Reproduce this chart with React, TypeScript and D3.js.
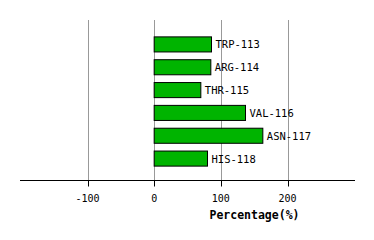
import React from "react";
import * as d3 from "d3";

const categories = ["TRP-113", "ARG-114", "THR-115", "VAL-116", "ASN-117", "HIS-118"];
const values = [86, 85, 70, 137, 163, 80];
const tickValues = [-100, 0, 100, 200];
const axisTitle = "Percentage(%)";

export default function App() {
  const W = 374, H = 240;
  const x = d3.scaleLinear().domain([-100, 200]).range([87.5, 287.5]);
  const y = d3.scaleBand<string>().domain(categories).range([33, 170]).paddingInner(0.34).paddingOuter(0.17);
  const axisY = 180.5;
  const font = "'DejaVu Sans Mono', monospace";
  return (
    <svg width={W} height={H} style={{ position: "absolute", left: 0, top: 0 }}>
      <rect width={W} height={H} fill="#fff" />
      {tickValues.map((t) => (
        <line key={"g" + t} x1={Math.round(x(t)) + 0.5} x2={Math.round(x(t)) + 0.5} y1={20} y2={axisY} stroke="#999" strokeWidth={1} />
      ))}
      {categories.map((c, i) => {
        const x0 = x(0), x1 = x(values[i]);
        const yy = y(c)!;
        return (
          <g key={c}>
            <rect x={Math.min(x0, x1)} y={yy} width={Math.abs(x1 - x0)} height={y.bandwidth()} fill="#00b400" stroke="#000" strokeWidth={1} />
            <text x={x1 + 4} y={yy + y.bandwidth() / 2} dominantBaseline="central" fontFamily={font} fontSize={10.5} fill="#000">{c}</text>
          </g>
        );
      })}
      <line x1={20} x2={355} y1={axisY} y2={axisY} stroke="#000" strokeWidth={1} />
      {tickValues.map((t) => (
        <g key={"t" + t}>
          <line x1={Math.round(x(t)) + 0.5} x2={Math.round(x(t)) + 0.5} y1={axisY} y2={axisY + 6} stroke="#000" />
          <text x={x(t)} y={198.5} textAnchor="middle" dominantBaseline="central" fontFamily={font} fontSize={10} fill="#000">{t}</text>
        </g>
      ))}
      <text x={254.5} y={215} textAnchor="middle" dominantBaseline="central" fontFamily={font} fontWeight="bold" fontSize={11.5} fill="#000">{axisTitle}</text>
    </svg>
  );
}
